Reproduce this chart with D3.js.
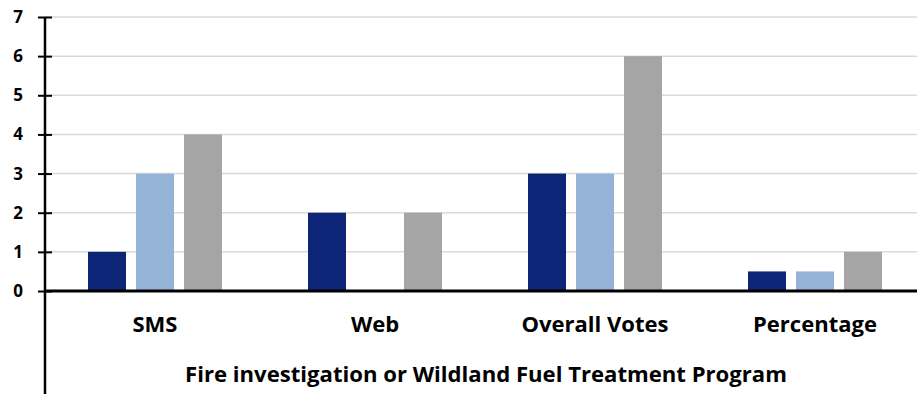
<!DOCTYPE html>
<html><head><meta charset="utf-8">
<script src="https://cdn.jsdelivr.net/npm/d3@7"></script>
<style>body{margin:0;background:#fff}svg{display:block}text{font-family:"Open Sans",sans-serif;font-weight:bold;fill:#000}</style>
</head><body>
<script>
const categories = ["SMS","Web","Overall Votes","Percentage"];
const seriesNames = ["Series 1","Series 2","Series 3"];
const series1 = [1,2,3,0.5];
const series2 = [3,0,3,0.5];
const series3 = [4,2,6,1];
const yTicks = [0,1,2,3,4,5,6,7];
const colors = ["#0c2577","#95b3d7","#a5a5a5"];
const axisTitle = "Fire investigation or Wildland Fuel Treatment Program";

const W=917,H=394;
const svg=d3.select("body").append("svg").attr("width",W).attr("height",H);
const x0=45, x1=925, yTop=17, yZero=291;
const x=d3.scaleBand().domain(categories).range([x0,x1]).paddingInner(0).paddingOuter(0);
const y=d3.scaleLinear().domain([0,7]).range([yZero,yTop]);
const inner=d3.scaleBand().domain(seriesNames).range([43,177]).paddingInner(10/48).paddingOuter(0);

svg.append("g").selectAll("line").data(yTicks.filter(t=>t>0)).join("line")
 .attr("x1",x0).attr("x2",W).attr("y1",d=>y(d)).attr("y2",d=>y(d))
 .attr("stroke","#d9d9d9").attr("stroke-width",1.5);

const data=[series1,series2,series3];
const g=svg.append("g");
categories.forEach((c,i)=>{
  seriesNames.forEach((s,j)=>{
    const v=data[j][i];
    if(v<=0) return;
    g.append("rect").attr("x",x(c)+inner(s)).attr("width",inner.bandwidth())
     .attr("y",y(v)).attr("height",y(0)-y(v)).attr("fill",colors[j]);
  });
});

const ya=svg.append("g").attr("transform",`translate(${x0},0)`)
 .call(d3.axisLeft(y).tickValues(yTicks).tickFormat(d3.format("d")).tickSize(7).tickPadding(15));
ya.select(".domain").remove();
ya.selectAll(".tick line").attr("x2",7).attr("x1",-7).attr("stroke","#000").attr("stroke-width",2);
ya.selectAll(".tick text").style("font-size","17px").attr("fill","#000");
svg.append("line").attr("x1",x0).attr("x2",x0).attr("y1",yTop).attr("y2",H).attr("stroke","#000").attr("stroke-width",2.5);
svg.append("line").attr("x1",x0).attr("x2",W).attr("y1",yZero).attr("y2",yZero).attr("stroke","#000").attr("stroke-width",3);

const cl=svg.append("g").selectAll("text").data(categories).join("text")
 .attr("x",d=>x(d)+x.bandwidth()/2).attr("y",332).attr("text-anchor","middle")
 .style("font-size","20px").text(d=>d);
// fit category size to width of "Overall Votes" (~147px)
const ovNode=cl.filter(d=>d==="Overall Votes").node();
const cs=20*147/ovNode.getComputedTextLength();
cl.style("font-size",cs+"px");
const t=svg.append("text").attr("x",486).attr("y",382).attr("text-anchor","middle").style("font-size","20px").text(axisTitle);
const ts=20*602/t.node().getComputedTextLength();
t.style("font-size",ts+"px");
</script>
</body></html>
